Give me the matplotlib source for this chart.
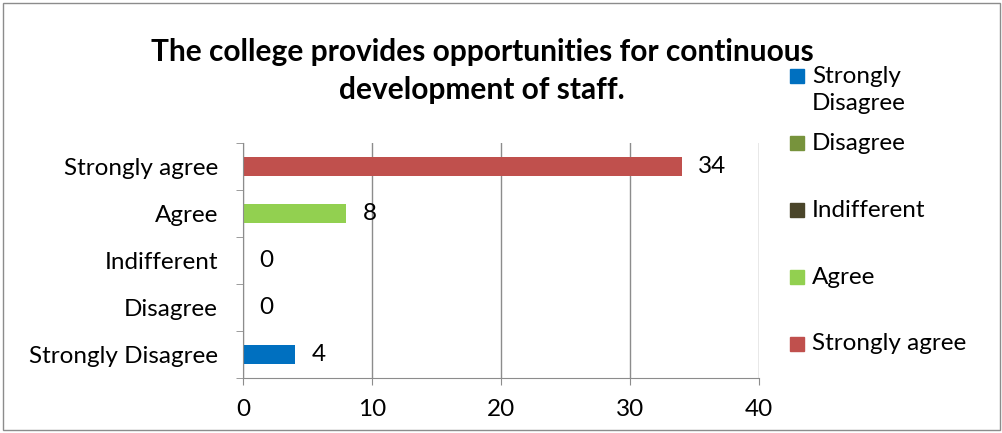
import matplotlib
matplotlib.use("Agg")
import matplotlib.pyplot as plt
from matplotlib.patches import Rectangle

# data
categories = ["Strongly Disagree", "Disagree", "Indifferent", "Agree", "Strongly agree"]
counts = [4, 0, 0, 8, 34]
colors = ["#0070C0", "#77933C", "#4A452A", "#92D050", "#C0504D"]
legend_labels = ["Strongly\nDisagree", "Disagree", "Indifferent", "Agree", "Strongly agree"]
title = "The college provides opportunities for continuous\ndevelopment of staff."

plt.rcParams['font.family'] = ['Lato', 'DejaVu Sans']
FS = 17.5

W, H = 1003, 433
fig = plt.figure(figsize=(W / 100, H / 100), dpi=100)

# outer border
fig.patches.append(Rectangle((3 / W, 3 / H), (W - 6) / W, (H - 6) / H, transform=fig.transFigure,
                             fill=False, edgecolor="#8C8C8C", lw=1))

ax = fig.add_axes([243 / W, 55 / H, 516 / W, 235 / H])
y = list(range(len(categories)))
bars = ax.barh(y, counts, height=0.4, color=colors)

for yi, v in zip(y, counts):
    ax.annotate(str(v), (v, yi), xytext=(12, 0), textcoords="offset points",
                va="center", ha="left", fontsize=FS, color="black")

ax.set_xlim(0, 40)
ax.set_ylim(-0.5, len(categories) - 0.5)
ax.set_xticks([0, 10, 20, 30, 40])
ax.set_yticks(y)
ax.set_yticklabels(categories)
ax.set_yticks([i - 0.5 for i in range(len(categories) + 1)], minor=True)
ax.tick_params(axis="y", which="major", length=0, pad=18, labelsize=FS)
ax.tick_params(axis="y", which="minor", length=5, color="#8C8C8C", direction="out")
ax.tick_params(axis="x", length=5, color="#8C8C8C", pad=10, labelsize=FS)
ax.grid(axis="x", color="#8C8C8C", lw=1)
ax.set_axisbelow(True)
for s in ("top", "right"):
    ax.spines[s].set_visible(False)
for s in ("left", "bottom"):
    ax.spines[s].set_color("#8C8C8C")

fig.text(482 / W, 1 - 71 / H, title, ha="center", va="center", fontsize=21.5,
         fontweight="bold", linespacing=1.45)

# legend drawn by hand to match the spacing of the original
leg_y = [76, 143, 210, 277, 344]
for lab, c, ly in zip(legend_labels, colors, leg_y):
    fig.patches.append(Rectangle((790 / W, 1 - (ly + 7) / H), 14 / W, 14 / H,
                                 transform=fig.transFigure, color=c))
    cy = ly + 14 if "\n" in lab else ly
    fig.text(812 / W, 1 - cy / H, lab, ha="left", va="center",
             fontsize=FS, linespacing=1.35)

fig.savefig("out.png", dpi=100)
